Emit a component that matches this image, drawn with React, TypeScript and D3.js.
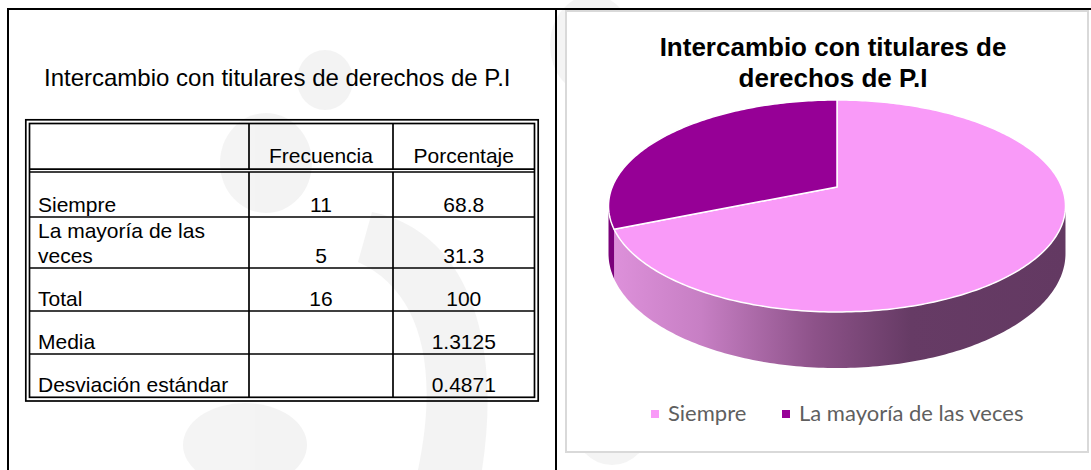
import React from 'react'
import * as d3 from 'd3'

// table + pie data
const categories = ['Siempre', 'La mayoría de las veces']
const porcentaje = [68.8, 31.3]
const sliceColors = ['#f99af8', '#960096']

const headers = ['', 'Frecuencia', 'Porcentaje']
const rowLabels = [['Siempre'], ['La mayoría de las', 'veces'], ['Total'], ['Media'], ['Desviación estándar']]
const freqCol = ['11', '5', '16', '', '']
const pctCol = ['68.8', '31.3', '100', '1.3125', '0.4871']

const title = 'Intercambio con titulares de derechos de P.I'
const chartTitle = ['Intercambio con titulares de', 'derechos de P.I']

// table geometry
const tbl = { x0: 25.8, x1: 538.2, y0: 119.8, y1: 401, gap: 3.7 }
const colX = [29.5, 249, 393, 534.5]
const headBottom = 169.2
const rowLines = [172, 217, 268, 311, 354, 397.3]

// 3D pie with a bit of perspective
const P = { cx: 837, cy: 187, A: 102.6, B: 224.8, t: 0.179, H: 46 }

const proj = (a: number, drop = 0): [number, number] => {
  const u = Math.sin(a)
  const w = Math.cos(a)
  const s = 1 / (1 + P.t * w)
  return [P.cx + P.B * u * s, P.cy - P.A * w * s + drop * s]
}

const arcPts = (a0: number, a1: number, drop = 0) => {
  const n = Math.max(2, Math.ceil(Math.abs(a1 - a0) * 60))
  return d3.range(n + 1).map(i => proj(a0 + ((a1 - a0) * i) / n, drop))
}

const line = d3.line<[number, number]>()

export default function App() {
  const arcs = d3.pie<number>().sort(null).value(d => d)(porcentaje)
  const aR = Math.acos(-P.t)
  const aL = 2 * Math.PI - aR

  const font = '"Liberation Sans", Arial, sans-serif'

  return (
    <svg
      width={1091}
      height={470}
      style={{ position: 'absolute', left: 0, top: 0, background: '#fff' }}
    >
      <defs>
        <linearGradient id="sideGrad" gradientUnits="userSpaceOnUse" x1={610} y1={0} x2={1065} y2={0}>
          <stop offset="0" stopColor="#de91db" />
          <stop offset="0.2" stopColor="#c77fc4" />
          <stop offset="0.45" stopColor="#8d5289" />
          <stop offset="0.66" stopColor="#663b65" />
          <stop offset="1" stopColor="#633962" />
        </linearGradient>
      </defs>

      {/* faint watermark */}
      <g fill="#eeeeee" opacity={0.65}>
        <ellipse cx={266} cy={163} rx={46} ry={50} />
        <ellipse cx={325} cy={80} rx={28} ry={30} />
        <ellipse cx={592} cy={45} rx={42} ry={50} />
        <path d="M372,212 C455,228 505,320 482,470 L418,470 C440,365 420,290 358,262 Z" />
        <ellipse cx={245} cy={445} rx={62} ry={42} />
        <ellipse cx={612} cy={425} rx={38} ry={40} />
      </g>

      {/* outer frame */}
      <g stroke="#000" strokeWidth={2}>
        <line x1={7} x2={1091} y1={9} y2={9} />
        <line x1={8} x2={8} y1={8} y2={470} />
        <line x1={556} x2={556} y1={9} y2={470} />
      </g>

      <text x={44} y={86} fontFamily={font} fontSize={24} fill="#000">
        {title}
      </text>

      {/* table */}
      <g stroke="#000" strokeWidth={1.7} fill="none">
        <rect x={tbl.x0} y={tbl.y0} width={tbl.x1 - tbl.x0} height={tbl.y1 - tbl.y0} />
        <rect
          x={tbl.x0 + tbl.gap}
          y={tbl.y0 + tbl.gap}
          width={tbl.x1 - tbl.x0 - 2 * tbl.gap}
          height={tbl.y1 - tbl.y0 - 2 * tbl.gap}
        />
        <line x1={colX[0]} x2={colX[3]} y1={headBottom} y2={headBottom} />
        {rowLines.slice(0, -1).map((y, i) => (
          <line key={i} x1={colX[0]} x2={colX[3]} y1={y} y2={y} />
        ))}
        <line x1={colX[1]} x2={colX[1]} y1={tbl.y0 + tbl.gap} y2={headBottom} />
        <line x1={colX[2]} x2={colX[2]} y1={tbl.y0 + tbl.gap} y2={headBottom} />
        <line x1={colX[1]} x2={colX[1]} y1={rowLines[0]} y2={rowLines[5]} />
        <line x1={colX[2]} x2={colX[2]} y1={rowLines[0]} y2={rowLines[5]} />
      </g>

      <g fontFamily={font} fontSize={21} fill="#000">
        {headers.map((h, i) =>
          h ? (
            <text key={i} x={(colX[i] + colX[i + 1]) / 2} y={163} textAnchor="middle">
              {h}
            </text>
          ) : null
        )}
        {rowLabels.map((lab, r) => {
          const base = rowLines[r + 1] - 5.5
          return (
            <g key={r}>
              {lab.map((s, k) => (
                <text key={k} x={38} y={base - (lab.length - 1 - k) * 25}>
                  {s}
                </text>
              ))}
              <text x={(colX[1] + colX[2]) / 2} y={base} textAnchor="middle">
                {freqCol[r]}
              </text>
              <text x={(colX[2] + colX[3]) / 2} y={base} textAnchor="middle">
                {pctCol[r]}
              </text>
            </g>
          )
        })}
      </g>

      {/* chart area */}
      <rect x={566} y={11} width={522} height={441} fill="#fff" stroke="#d9d9d9" strokeWidth={2} />

      <g fontFamily={font} fontSize={26} fontWeight="bold" fill="#000" textAnchor="middle">
        {chartTitle.map((s, i) => (
          <text key={i} x={833} y={56 + i * 31}>
            {s}
          </text>
        ))}
      </g>

      {/* pie sides */}
      {arcs.map((d, i) => {
        const a0 = Math.max(d.startAngle, aR)
        const a1 = Math.min(d.endAngle, aL)
        if (a1 <= a0) return null
        const top = arcPts(a0, a1)
        const bottom = arcPts(a1, a0, P.H)
        return (
          <path
            key={'s' + i}
            d={line([...top, ...bottom]) + 'Z'}
            fill={i === 0 ? 'url(#sideGrad)' : '#7a007a'}
          />
        )
      })}

      {/* pie tops */}
      {arcs.map((d, i) => {
        const pts = [[P.cx, P.cy] as [number, number], ...arcPts(d.startAngle, d.endAngle)]
        return (
          <path
            key={'t' + i}
            d={line(pts) + 'Z'}
            fill={sliceColors[i]}
            stroke="#fff"
            strokeWidth={1.5}
            strokeLinejoin="round"
          />
        )
      })}

      {/* legend */}
      <g fontFamily="Lato, 'Noto Sans', sans-serif" fontSize={22} fill="#5f5f5f">
        {categories.map((c, i) => {
          const x = i === 0 ? 651 : 782
          return (
            <g key={c}>
              <rect x={x} y={410} width={8} height={8} fill={sliceColors[i]} />
              <text x={x + 17} y={421}>
                {c}
              </text>
            </g>
          )
        })}
      </g>
    </svg>
  )
}
